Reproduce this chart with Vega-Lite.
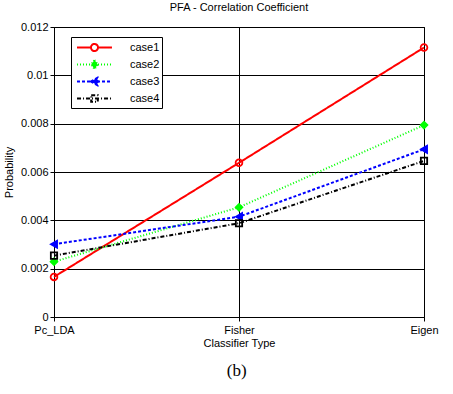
{
  "$schema": "https://vega.github.io/schema/vega-lite/v6.json",
  "padding": {"left": 2, "top": 1, "right": 25, "bottom": 5},
  "background": "white",
  "config": {
    "font": "Liberation Sans",
    "view": {"stroke": "black", "strokeWidth": 1},
    "axis": {
      "domainColor": "black", "tickColor": "black", "gridColor": "black", "gridOpacity": 1, "gridWidth": 1,
      "labelFont": "Liberation Sans", "labelFontSize": 11, "labelColor": "black",
      "titleFont": "Liberation Sans", "titleFontSize": 11, "titleFontWeight": "normal", "titleColor": "black",
      "tickSize": 4
    },
    "legend": {"labelFont": "Liberation Sans", "labelFontSize": 11, "labelColor": "black", "title": null, "orient": "none", "legendX": 17, "legendY": 10, "strokeColor": "black", "fillColor": "white", "padding": 2, "rowPadding": -2, "symbolSize": 225, "symbolStrokeWidth": 2, "symbolOffset": 13, "labelOffset": 27}
  },
  "title": {"text": "(b)", "orient": "bottom", "anchor": "middle", "font": "Liberation Serif", "fontSize": 17, "fontWeight": "normal", "color": "black", "offset": 14, "dx": 16},
  "vconcat": [
    {
      "width": 370,
      "height": 290,
      "title": {"text": "PFA - Correlation Coefficient", "anchor": "middle", "frame": "group", "font": "Liberation Sans", "fontSize": 11, "fontWeight": "normal", "color": "black", "offset": 8},
      "data": {"values": [
        {"type": "Pc_LDA", "case": "case1", "p": 0.00166},
        {"type": "Fisher", "case": "case1", "p": 0.00638},
        {"type": "Eigen", "case": "case1", "p": 0.01115},
        {"type": "Pc_LDA", "case": "case2", "p": 0.00229},
        {"type": "Fisher", "case": "case2", "p": 0.00454},
        {"type": "Eigen", "case": "case2", "p": 0.00794},
        {"type": "Pc_LDA", "case": "case3", "p": 0.00301},
        {"type": "Fisher", "case": "case3", "p": 0.00415},
        {"type": "Eigen", "case": "case3", "p": 0.00694},
        {"type": "Pc_LDA", "case": "case4", "p": 0.00254},
        {"type": "Fisher", "case": "case4", "p": 0.00388},
        {"type": "Eigen", "case": "case4", "p": 0.00646}
      ]},
      "encoding": {
        "x": {"field": "type", "type": "ordinal", "sort": ["Pc_LDA", "Fisher", "Eigen"],
              "scale": {"type": "point", "padding": 0},
              "axis": {"title": "Classifier Type", "labelAngle": 0, "grid": true, "domain": false, "titlePadding": 2, "labelPadding": 3}},
        "y": {"field": "p", "type": "quantitative",
              "scale": {"domain": [0, 0.012], "nice": false},
              "axis": {"title": "Probability", "values": [0, 0.002, 0.004, 0.006, 0.008, 0.01, 0.012], "format": "~g", "grid": true, "domain": false, "titlePadding": 6}}
      },
      "layer": [
        {
          "mark": {"type": "line", "strokeWidth": 2},
          "encoding": {
            "stroke": {"field": "case", "type": "nominal",
                       "scale": {"domain": ["case1", "case2", "case3", "case4"], "range": ["#ff0000", "#00ff00", "#0000ff", "#000000"]}},
            "strokeDash": {"field": "case", "type": "nominal",
                           "scale": {"domain": ["case1", "case2", "case3", "case4"], "range": [[1, 0], [1, 2], [3, 2], [4, 2, 1, 2]]}}
          }
        },
        {
          "transform": [{"filter": {"field": "case", "equal": "case1"}}],
          "mark": {"type": "point", "shape": "circle", "size": 45, "strokeWidth": 1.8, "opacity": 1, "fill": "transparent"},
          "encoding": {"stroke": {"field": "case", "type": "nominal"}}
        },
        {
          "transform": [{"filter": {"field": "case", "equal": "case2"}}],
          "mark": {"type": "point", "shape": "diamond", "size": 45, "strokeWidth": 1.8, "opacity": 1, "fill": "#00ff00"},
          "encoding": {"stroke": {"field": "case", "type": "nominal"}}
        },
        {
          "transform": [{"filter": {"field": "case", "equal": "case3"}}],
          "mark": {"type": "point", "shape": "triangle-left", "size": 50, "strokeWidth": 1.8, "opacity": 1, "fill": "#0000ff"},
          "encoding": {"stroke": {"field": "case", "type": "nominal"}}
        },
        {
          "transform": [{"filter": {"field": "case", "equal": "case4"}}],
          "mark": {"type": "point", "shape": "square", "size": 40, "strokeWidth": 1.8, "opacity": 1, "fill": "transparent"},
          "encoding": {"stroke": {"field": "case", "type": "nominal"}}
        },
        {
          "transform": [{"filter": {"field": "case", "equal": "none"}}],
          "mark": {"type": "point", "opacity": 1, "strokeWidth": 2},
          "encoding": {
            "stroke": {"field": "case", "type": "nominal"},
            "strokeDash": {"field": "case", "type": "nominal"},
            "fill": {"field": "case", "type": "nominal",
                     "scale": {"domain": ["case1", "case2", "case3", "case4"], "range": ["transparent", "#00ff00", "#0000ff", "transparent"]}},
            "shape": {"field": "case", "type": "nominal",
                      "scale": {"domain": ["case1", "case2", "case3", "case4"], "range": [
                        "M-2.33,0H-0.47M0.47,0H2.33M-0.47,0A0.47,0.47 0 1,0 0.47,0A0.47,0.47 0 1,0 -0.47,0",
                        "M-2.33,0H2.33M0,-0.6L0.44,0L0,0.6L-0.44,0Z",
                        "M-2.33,0H2.33M-0.5,0L0.4,-0.5L0.4,0.5Z",
                        "M-2.33,0H2.33M-0.44,-0.44H0.44V0.44H-0.44Z"]}}
          }
        }
      ]
    }
  ]
}
